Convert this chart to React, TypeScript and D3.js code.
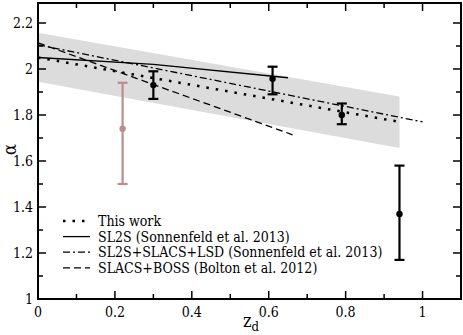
import React, { useEffect, useRef } from 'react'
import * as d3 from 'd3'

// band of this work (68% region)
const bandZ = [0, 0.94]
const bandLo = [1.945, 1.657]
const bandHi = [2.158, 1.88]

const thisWorkZ = [0, 0.94]
const thisWorkA = [2.05, 1.77]

const sl2sZ = [0, 0.3, 0.65]
const sl2sA = [2.05, 2.02, 1.962]

const lsdZ = [0, 1.0]
const lsdA = [2.105, 1.77]

const bossZ = [0, 0.662]
const bossA = [2.114, 1.714]

// measurements
const ptZ = [0.3, 0.61, 0.79, 0.94]
const ptA = [1.93, 1.958, 1.80, 1.37]
const ptHi = [1.99, 2.01, 1.85, 1.58]
const ptLo = [1.87, 1.89, 1.76, 1.17]

const pinkZ = [0.22]
const pinkA = [1.74]
const pinkHi = [1.94]
const pinkLo = [1.50]

const legendLabels = [
  'This work',
  'SL2S (Sonnenfeld et al. 2013)',
  'SL2S+SLACS+LSD (Sonnenfeld et al. 2013)',
  'SLACS+BOSS (Bolton et al. 2012)'
]
const legendDash = ['2.5,7', null, '7,3,2,3', '7,4']

const xTicks = [0, 0.2, 0.4, 0.6, 0.8, 1]
const yTicks = [1, 1.2, 1.4, 1.6, 1.8, 2, 2.2]

function App () {
  const ref = useRef<SVGSVGElement>(null)

  useEffect(() => {
    const width = 463
    const height = 335
    const margin = { top: 3, right: 2, bottom: 36, left: 38 }
    const svg = d3.select(ref.current)
    svg.selectAll('*').remove()
    const font = "'DejaVu Serif Condensed', 'DejaVu Serif', serif"

    const x = d3.scaleLinear().domain([0, 1.1]).range([margin.left, width - margin.right])
    const y = d3.scaleLinear().domain([1, 2.2 + 20 / 230]).range([height - margin.bottom, margin.top])

    // grey band
    const area = d3.area<number>()
      .x((d, i) => x(bandZ[i]))
      .y0((d, i) => y(bandLo[i]))
      .y1((d, i) => y(bandHi[i]))
    svg.append('path').datum(bandZ).attr('d', area).attr('fill', '#dcdcdc')

    const drawLine = (zs: number[], as: number[], dash: string | null, w: number) => {
      const line = d3.line<number>().x((d, i) => x(zs[i])).y((d, i) => y(as[i]))
      const p = svg.append('path').datum(zs).attr('d', line)
        .attr('fill', 'none').attr('stroke', '#000').attr('stroke-width', w)
      if (dash) p.attr('stroke-dasharray', dash)
    }
    drawLine(sl2sZ, sl2sA, null, 1.3)
    drawLine(lsdZ, lsdA, legendDash[2], 1.3)
    drawLine(bossZ, bossA, legendDash[3], 1.3)
    drawLine(thisWorkZ, thisWorkA, legendDash[0], 2.5)

    // error bars
    const drawPts = (zs: number[], as: number[], hi: number[], lo: number[], color: string) => {
      const g = svg.append('g').attr('stroke', color).attr('stroke-width', 2.2)
      zs.forEach((z, i) => {
        g.append('line').attr('x1', x(z)).attr('x2', x(z)).attr('y1', y(hi[i])).attr('y2', y(lo[i]))
        g.append('line').attr('x1', x(z) - 5).attr('x2', x(z) + 5).attr('y1', y(hi[i])).attr('y2', y(hi[i]))
        g.append('line').attr('x1', x(z) - 5).attr('x2', x(z) + 5).attr('y1', y(lo[i])).attr('y2', y(lo[i]))
        svg.append('circle').attr('cx', x(z)).attr('cy', y(as[i])).attr('r', 3.2).attr('fill', color)
      })
    }
    drawPts(pinkZ, pinkA, pinkHi, pinkLo, '#c08b8b')
    drawPts(ptZ, ptA, ptHi, ptLo, '#000')

    // frame
    const x0 = x(0)
    const x1 = x(1.1)
    const yb = y(1)
    const yt = y.range()[1]
    svg.append('rect').attr('x', x0).attr('y', yt).attr('width', x1 - x0).attr('height', yb - yt)
      .attr('fill', 'none').attr('stroke', '#000').attr('stroke-width', 2)

    const xMinor = d3.range(0, 1.1, 0.1)
    const yMinor = d3.range(1, 2.3, 0.1)
    const tg = svg.append('g').attr('stroke', '#000').attr('stroke-width', 1.5)
    xMinor.forEach((v, i) => {
      const len = i % 2 === 0 ? 8 : 5
      tg.append('line').attr('x1', x(v)).attr('x2', x(v)).attr('y1', yb).attr('y2', yb - len)
      tg.append('line').attr('x1', x(v)).attr('x2', x(v)).attr('y1', yt).attr('y2', yt + len)
    })
    yMinor.forEach((v, i) => {
      const len = i % 2 === 0 ? 8 : 5
      tg.append('line').attr('x1', x0).attr('x2', x0 + len).attr('y1', y(v)).attr('y2', y(v))
      tg.append('line').attr('x1', x1).attr('x2', x1 - len).attr('y1', y(v)).attr('y2', y(v))
    })

    svg.append('g').selectAll('text').data(xTicks).enter().append('text')
      .attr('x', d => x(d)).attr('y', yb + 18).attr('text-anchor', 'middle')
      .style('font-family', font).style('font-size', '14px').text(d => d3.format('')(d))
    svg.append('g').selectAll('text').data(yTicks).enter().append('text')
      .attr('x', x0 - 5).attr('y', d => y(d) + 5).attr('text-anchor', 'end')
      .style('font-family', font).style('font-size', '14px').text(d => d3.format('')(d))

    // axis labels
    svg.append('text').attr('transform', 'translate(16,' + y(1.65) + ') rotate(-90)')
      .attr('text-anchor', 'middle').style('font-family', font).style('font-size', '18px').text('α')
    const xl = svg.append('text').attr('x', 243).attr('y', 327).style('font-family', font).style('font-size', '18px')
    xl.append('tspan').text('z')
    xl.append('tspan').attr('dy', 4).style('font-size', '13px').text('d')

    // legend
    legendLabels.forEach((lab, i) => {
      const ly = 221 + i * 15.6
      const l = svg.append('line').attr('x1', 63).attr('x2', 90).attr('y1', ly).attr('y2', ly)
        .attr('stroke', '#000').attr('stroke-width', i === 0 ? 2.5 : 1.3)
      if (legendDash[i]) l.attr('stroke-dasharray', legendDash[i] as string)
      svg.append('text').attr('x', 98).attr('y', ly + 5).style('font-family', font)
        .style('font-size', '14px').text(lab)
    })
  }, [])

  return <svg ref={ref} width={463} height={335} style={{ position: 'absolute', left: 0, top: 0 }} />
}

export default App
